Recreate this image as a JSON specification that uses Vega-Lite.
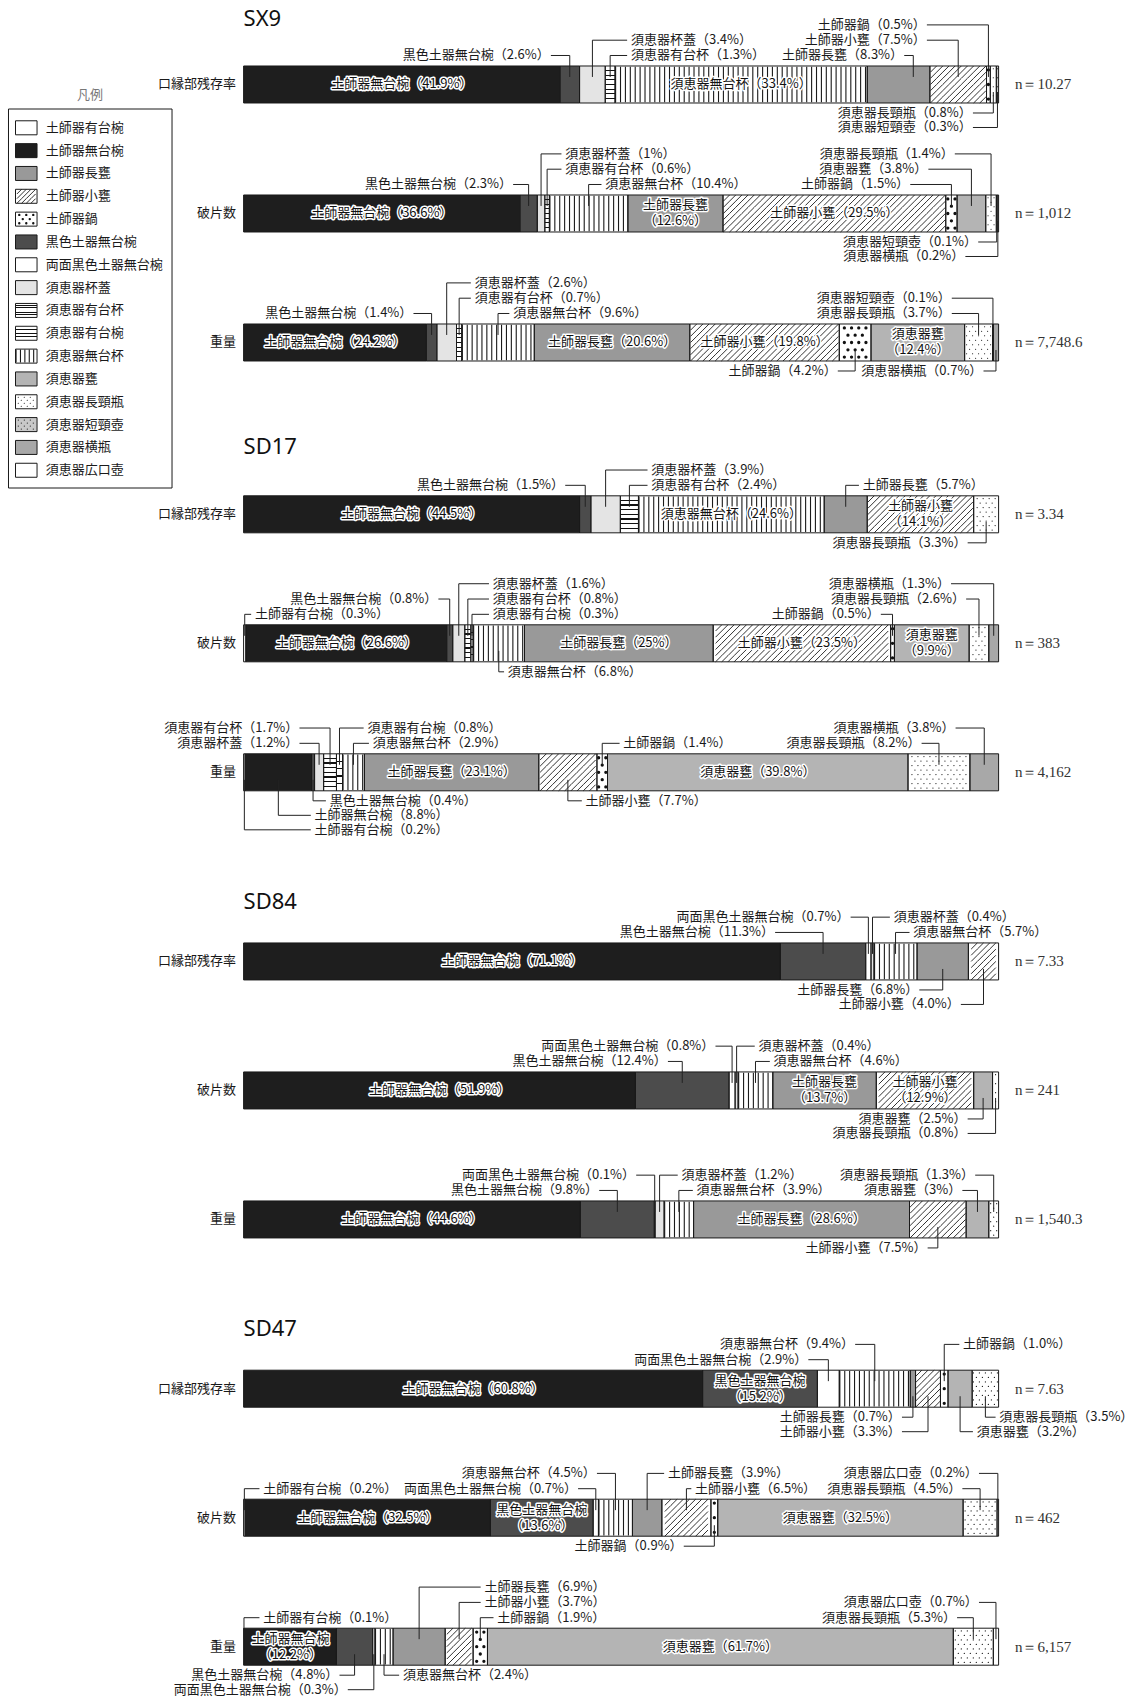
{
"$schema": "https://vega.github.io/schema/vega-lite/v6.json",
"width": 1139, "height": 1697,
"autosize": {"type": "none"},
"padding": 0,
"background": "white",
"config": {"view": {"stroke": null}, "font": "Noto Sans CJK JP"},
"datasets": {
"d": [
{"g":"SX9","b":"口縁部残存率","c":"土師器無台椀","v":41.9,"t":"i"},
{"g":"SX9","b":"口縁部残存率","c":"黒色土器無台椀","v":2.6,"lv":1,"lx":40.2},
{"g":"SX9","b":"口縁部残存率","c":"須恵器杯蓋","v":3.4,"lv":2,"lx":51.3},
{"g":"SX9","b":"口縁部残存率","c":"須恵器有台杯","v":1.3,"lv":1,"lx":51.3},
{"g":"SX9","b":"口縁部残存率","c":"須恵器無台杯","v":33.4,"t":"i"},
{"g":"SX9","b":"口縁部残存率","c":"土師器長甕","v":8.3,"lv":1,"lx":87.0,"ax":88.7},
{"g":"SX9","b":"口縁部残存率","c":"土師器小甕","v":7.5,"lv":2,"lx":90.0},
{"g":"SX9","b":"口縁部残存率","c":"土師器鍋","v":0.5,"lv":3,"lx":90.0},
{"g":"SX9","b":"口縁部残存率","c":"須恵器長頸瓶","v":0.8,"lv":-1,"lx":96.1},
{"g":"SX9","b":"口縁部残存率","c":"須恵器短頸壺","v":0.3,"lv":-2,"lx":96.1},
{"g":"SX9","b":"破片数","c":"土師器無台椀","v":36.6,"t":"i"},
{"g":"SX9","b":"破片数","c":"黒色土器無台椀","v":2.3,"lv":1,"lx":35.2},
{"g":"SX9","b":"破片数","c":"須恵器杯蓋","v":1,"lv":3,"lx":42.6},
{"g":"SX9","b":"破片数","c":"須恵器有台杯","v":0.6,"lv":2,"lx":42.6},
{"g":"SX9","b":"破片数","c":"須恵器無台杯","v":10.4,"lv":1,"lx":47.9},
{"g":"SX9","b":"破片数","c":"土師器長甕","v":12.6,"t":"i2"},
{"g":"SX9","b":"破片数","c":"土師器小甕","v":29.5,"t":"i"},
{"g":"SX9","b":"破片数","c":"土師器鍋","v":1.5,"lv":1,"lx":87.8},
{"g":"SX9","b":"破片数","c":"須恵器甕","v":3.8,"lv":2,"lx":90.2},
{"g":"SX9","b":"破片数","c":"須恵器長頸瓶","v":1.4,"lv":3,"lx":93.7},
{"g":"SX9","b":"破片数","c":"須恵器短頸壺","v":0.1,"lv":-1,"lx":96.8},
{"g":"SX9","b":"破片数","c":"須恵器横瓶","v":0.2,"lv":-2,"lx":95.1},
{"g":"SX9","b":"重量","c":"土師器無台椀","v":24.2,"t":"i"},
{"g":"SX9","b":"重量","c":"黒色土器無台椀","v":1.4,"lv":1,"lx":22.0},
{"g":"SX9","b":"重量","c":"須恵器杯蓋","v":2.6,"lv":3,"lx":30.6},
{"g":"SX9","b":"重量","c":"須恵器有台杯","v":0.7,"lv":2,"lx":30.6},
{"g":"SX9","b":"重量","c":"須恵器無台杯","v":9.6,"lv":1,"lx":35.7},
{"g":"SX9","b":"重量","c":"土師器長甕","v":20.6,"t":"i"},
{"g":"SX9","b":"重量","c":"土師器小甕","v":19.8,"t":"i"},
{"g":"SX9","b":"重量","c":"土師器鍋","v":4.2,"lv":-1,"lx":78.2},
{"g":"SX9","b":"重量","c":"須恵器甕","v":12.4,"t":"i2"},
{"g":"SX9","b":"重量","c":"須恵器長頸瓶","v":3.7,"lv":1,"lx":93.3},
{"g":"SX9","b":"重量","c":"須恵器短頸壺","v":0.1,"lv":2,"lx":93.3},
{"g":"SX9","b":"重量","c":"須恵器横瓶","v":0.7,"lv":-1,"lx":97.5},
{"g":"SD17","b":"口縁部残存率","c":"土師器無台椀","v":44.5,"t":"i"},
{"g":"SD17","b":"口縁部残存率","c":"黒色土器無台椀","v":1.5,"lv":1,"lx":42.1},
{"g":"SD17","b":"口縁部残存率","c":"須恵器杯蓋","v":3.9,"lv":2,"lx":54.0},
{"g":"SD17","b":"口縁部残存率","c":"須恵器有台杯","v":2.4,"lv":1,"lx":54.0},
{"g":"SD17","b":"口縁部残存率","c":"須恵器無台杯","v":24.6,"t":"i"},
{"g":"SD17","b":"口縁部残存率","c":"土師器長甕","v":5.7,"lv":1,"lx":82.0},
{"g":"SD17","b":"口縁部残存率","c":"土師器小甕","v":14.1,"t":"i2"},
{"g":"SD17","b":"口縁部残存率","c":"須恵器長頸瓶","v":3.3,"lv":-1,"lx":95.4},
{"g":"SD17","b":"破片数","c":"土師器有台椀","v":0.3,"lv":1,"lx":1.5},
{"g":"SD17","b":"破片数","c":"土師器無台椀","v":26.6,"t":"i"},
{"g":"SD17","b":"破片数","c":"黒色土器無台椀","v":0.8,"lv":2,"lx":25.3},
{"g":"SD17","b":"破片数","c":"須恵器杯蓋","v":1.6,"lv":3,"lx":33.0},
{"g":"SD17","b":"破片数","c":"須恵器有台杯","v":0.8,"lv":2,"lx":33.0},
{"g":"SD17","b":"破片数","c":"須恵器有台椀","v":0.3,"lv":1,"lx":33.0},
{"g":"SD17","b":"破片数","c":"須恵器無台杯","v":6.8,"lv":-1,"lx":35.0},
{"g":"SD17","b":"破片数","c":"土師器長甕","v":25,"t":"i"},
{"g":"SD17","b":"破片数","c":"土師器小甕","v":23.5,"t":"i"},
{"g":"SD17","b":"破片数","c":"土師器鍋","v":0.5,"lv":1,"lx":83.9},
{"g":"SD17","b":"破片数","c":"須恵器甕","v":9.9,"t":"i2"},
{"g":"SD17","b":"破片数","c":"須恵器長頸瓶","v":2.6,"lv":2,"lx":95.2},
{"g":"SD17","b":"破片数","c":"須恵器横瓶","v":1.3,"lv":3,"lx":93.2},
{"g":"SD17","b":"重量","c":"土師器有台椀","v":0.2,"lv":-3,"lx":9.4},
{"g":"SD17","b":"重量","c":"土師器無台椀","v":8.8,"lv":-2,"lx":9.4},
{"g":"SD17","b":"重量","c":"黒色土器無台椀","v":0.4,"lv":-1,"lx":11.4},
{"g":"SD17","b":"重量","c":"須恵器杯蓋","v":1.2,"lv":1,"lx":6.9},
{"g":"SD17","b":"重量","c":"須恵器有台杯","v":1.7,"lv":2,"lx":6.9},
{"g":"SD17","b":"重量","c":"須恵器有台椀","v":0.8,"lv":2,"lx":16.4},
{"g":"SD17","b":"重量","c":"須恵器無台杯","v":2.9,"lv":1,"lx":17.1},
{"g":"SD17","b":"重量","c":"土師器長甕","v":23.1,"t":"i"},
{"g":"SD17","b":"重量","c":"土師器小甕","v":7.7,"lv":-1,"lx":45.3},
{"g":"SD17","b":"重量","c":"土師器鍋","v":1.4,"lv":1,"lx":50.3},
{"g":"SD17","b":"重量","c":"須恵器甕","v":39.8,"t":"i"},
{"g":"SD17","b":"重量","c":"須恵器長頸瓶","v":8.2,"lv":1,"lx":89.3},
{"g":"SD17","b":"重量","c":"須恵器横瓶","v":3.8,"lv":2,"lx":93.8},
{"g":"SD84","b":"口縁部残存率","c":"土師器無台椀","v":71.1,"t":"i"},
{"g":"SD84","b":"口縁部残存率","c":"黒色土器無台椀","v":11.3,"lv":1,"lx":69.9},
{"g":"SD84","b":"口縁部残存率","c":"両面黒色土器無台椀","v":0.7,"lv":2,"lx":79.9},
{"g":"SD84","b":"口縁部残存率","c":"須恵器杯蓋","v":0.4,"lv":2,"lx":86.1},
{"g":"SD84","b":"口縁部残存率","c":"須恵器無台杯","v":5.7,"lv":1,"lx":88.7},
{"g":"SD84","b":"口縁部残存率","c":"土師器長甕","v":6.8,"lv":-1,"lx":89.0},
{"g":"SD84","b":"口縁部残存率","c":"土師器小甕","v":4.0,"vs":"4.0","lv":-2,"lx":94.5},
{"g":"SD84","b":"破片数","c":"土師器無台椀","v":51.9,"t":"i"},
{"g":"SD84","b":"破片数","c":"黒色土器無台椀","v":12.4,"lv":1,"lx":55.7},
{"g":"SD84","b":"破片数","c":"両面黒色土器無台椀","v":0.8,"lv":2,"lx":62.0},
{"g":"SD84","b":"破片数","c":"須恵器杯蓋","v":0.4,"lv":2,"lx":68.2},
{"g":"SD84","b":"破片数","c":"須恵器無台杯","v":4.6,"lv":1,"lx":70.2},
{"g":"SD84","b":"破片数","c":"土師器長甕","v":13.7,"t":"i2"},
{"g":"SD84","b":"破片数","c":"土師器小甕","v":12.9,"t":"i2"},
{"g":"SD84","b":"破片数","c":"須恵器甕","v":2.5,"lv":-1,"lx":95.4},
{"g":"SD84","b":"破片数","c":"須恵器長頸瓶","v":0.8,"lv":-2,"lx":95.4},
{"g":"SD84","b":"重量","c":"土師器無台椀","v":44.6,"t":"i"},
{"g":"SD84","b":"重量","c":"黒色土器無台椀","v":9.8,"lv":1,"lx":46.6},
{"g":"SD84","b":"重量","c":"両面黒色土器無台椀","v":0.1,"lv":2,"lx":51.5},
{"g":"SD84","b":"重量","c":"須恵器杯蓋","v":1.2,"lv":2,"lx":58.0},
{"g":"SD84","b":"重量","c":"須恵器無台杯","v":3.9,"lv":1,"lx":60.0},
{"g":"SD84","b":"重量","c":"土師器長甕","v":28.6,"t":"i"},
{"g":"SD84","b":"重量","c":"土師器小甕","v":7.5,"lv":-1,"lx":90.1},
{"g":"SD84","b":"重量","c":"須恵器甕","v":3,"lv":1,"lx":94.7},
{"g":"SD84","b":"重量","c":"須恵器長頸瓶","v":1.3,"lv":2,"lx":96.4},
{"g":"SD47","b":"口縁部残存率","c":"土師器無台椀","v":60.8,"t":"i"},
{"g":"SD47","b":"口縁部残存率","c":"黒色土器無台椀","v":15.2,"t":"i2"},
{"g":"SD47","b":"口縁部残存率","c":"両面黒色土器無台椀","v":2.9,"lv":1,"lx":74.3},
{"g":"SD47","b":"口縁部残存率","c":"須恵器無台杯","v":9.4,"lv":2,"lx":80.5},
{"g":"SD47","b":"口縁部残存率","c":"土師器長甕","v":0.7,"lv":-1,"lx":86.7},
{"g":"SD47","b":"口縁部残存率","c":"土師器小甕","v":3.3,"lv":-2,"lx":86.7},
{"g":"SD47","b":"口縁部残存率","c":"土師器鍋","v":1.0,"vs":"1.0","lv":2,"lx":95.3},
{"g":"SD47","b":"口縁部残存率","c":"須恵器甕","v":3.2,"lv":-2,"lx":97.1},
{"g":"SD47","b":"口縁部残存率","c":"須恵器長頸瓶","v":3.5,"lv":-1,"lx":100.1},
{"g":"SD47","b":"破片数","c":"土師器有台椀","v":0.2,"lv":1,"lx":2.6},
{"g":"SD47","b":"破片数","c":"土師器無台椀","v":32.5,"t":"i"},
{"g":"SD47","b":"破片数","c":"黒色土器無台椀","v":13.6,"t":"i2"},
{"g":"SD47","b":"破片数","c":"両面黒色土器無台椀","v":0.7,"lv":1,"lx":43.8},
{"g":"SD47","b":"破片数","c":"須恵器無台杯","v":4.5,"lv":2,"lx":46.3},
{"g":"SD47","b":"破片数","c":"土師器長甕","v":3.9,"lv":2,"lx":56.2},
{"g":"SD47","b":"破片数","c":"土師器小甕","v":6.5,"lv":1,"lx":59.8},
{"g":"SD47","b":"破片数","c":"土師器鍋","v":0.9,"lv":-1,"lx":57.8},
{"g":"SD47","b":"破片数","c":"須恵器甕","v":32.5,"t":"i"},
{"g":"SD47","b":"破片数","c":"須恵器長頸瓶","v":4.5,"lv":1,"lx":94.7},
{"g":"SD47","b":"破片数","c":"須恵器広口壺","v":0.2,"lv":2,"lx":96.9},
{"g":"SD47","b":"重量","c":"土師器有台椀","v":0.1,"lv":1,"lx":2.6},
{"g":"SD47","b":"重量","c":"土師器無台椀","v":12.2,"t":"i2"},
{"g":"SD47","b":"重量","c":"黒色土器無台椀","v":4.8,"lv":-1,"lx":12.2},
{"g":"SD47","b":"重量","c":"両面黒色土器無台椀","v":0.3,"lv":-2,"lx":13.3},
{"g":"SD47","b":"重量","c":"須恵器無台杯","v":2.4,"lv":-1,"lx":21.1},
{"g":"SD47","b":"重量","c":"土師器長甕","v":6.9,"lv":3,"lx":31.9},
{"g":"SD47","b":"重量","c":"土師器小甕","v":3.7,"lv":2,"lx":31.9},
{"g":"SD47","b":"重量","c":"土師器鍋","v":1.9,"lv":1,"lx":33.6},
{"g":"SD47","b":"重量","c":"須恵器甕","v":61.7,"t":"i"},
{"g":"SD47","b":"重量","c":"須恵器長頸瓶","v":5.3,"lv":1,"lx":94.0},
{"g":"SD47","b":"重量","c":"須恵器広口壺","v":0.7,"lv":2,"lx":96.9}
],
"nv": [
{"g":"SX9","b":"口縁部残存率","n":"10.27"},
{"g":"SX9","b":"破片数","n":"1,012"},
{"g":"SX9","b":"重量","n":"7,748.6"},
{"g":"SD17","b":"口縁部残存率","n":"3.34"},
{"g":"SD17","b":"破片数","n":"383"},
{"g":"SD17","b":"重量","n":"4,162"},
{"g":"SD84","b":"口縁部残存率","n":"7.33"},
{"g":"SD84","b":"破片数","n":"241"},
{"g":"SD84","b":"重量","n":"1,540.3"},
{"g":"SD47","b":"口縁部残存率","n":"7.63"},
{"g":"SD47","b":"破片数","n":"462"},
{"g":"SD47","b":"重量","n":"6,157"}
],
"legend": [
{"c":"土師器有台椀"},{"c":"土師器無台椀"},{"c":"土師器長甕"},{"c":"土師器小甕"},{"c":"土師器鍋"},{"c":"黒色土器無台椀"},{"c":"両面黒色土器無台椀"},{"c":"須恵器杯蓋"},{"c":"須恵器有台杯"},{"c":"須恵器有台椀"},{"c":"須恵器無台杯"},{"c":"須恵器甕"},{"c":"須恵器長頸瓶"},{"c":"須恵器短頸壺"},{"c":"須恵器横瓶"},{"c":"須恵器広口壺"}
],
"titles": [{"g":"SX9"},{"g":"SD17"},{"g":"SD84"},{"g":"SD47"}]
},
"layer": [
{
"data": {"name": "d"},
"transform": [
{"calculate":"indexof(['土師器有台椀','土師器無台椀','黒色土器無台椀','両面黒色土器無台椀','須恵器杯蓋','須恵器有台杯','須恵器有台椀','須恵器無台杯','土師器長甕','土師器小甕','土師器鍋','須恵器甕','須恵器長頸瓶','須恵器短頸壺','須恵器横瓶','須恵器広口壺'],datum.c)","as":"ord"},
{"stack":"v","groupby":["g","b"],"sort":[{"field":"ord","order":"ascending"}],"as":["x1","x2"]},
{"calculate":"[0,3.332,6.798,10.11][indexof(['SX9','SD17','SD84','SD47'],datum.g)]+indexof(['口縁部残存率','破片数','重量'],datum.b)","as":"yc"},
{"calculate":"datum.yc-0.1434","as":"y1"},
{"calculate":"datum.yc+0.1434","as":"y2"},
{"calculate":"(datum.x1+datum.x2)/2","as":"mid"},
{"calculate":"(datum.x2-datum.x1)*7.55","as":"wpx"},
{"calculate":"floor(datum.wpx/6.1667)","as":"hn"},
{"calculate":"-datum.hn*6.1667/2","as":"hx0"},
{"calculate":"pad('',datum.hn,'l6.1667,-6.1667m0,6.1667')","as":"hR"},
{"calculate":"'M'+datum.hx0+',18.5'+datum.hR+'M'+datum.hx0+',12.333'+datum.hR+'M'+datum.hx0+',6.1667'+datum.hR+'M'+datum.hx0+',0'+datum.hR+'M'+datum.hx0+',-6.1667'+datum.hR+'M'+datum.hx0+',-12.333'+datum.hR","as":"hp"},
{"calculate":"floor((datum.wpx-3)/7.2)+1","as":"nd"},
{"calculate":"-(datum.nd-1)*3.6","as":"dx0"},
{"calculate":"pad('',datum.nd,'l0,0m7.2,0')","as":"dE"},
{"calculate":"pad('',datum.nd-1,'l0,0m7.2,0')","as":"dO"},
{"calculate":"'M'+datum.dx0+',-14.6'+datum.dE+'M'+(datum.dx0+3.6)+',-7.3'+datum.dO+'M'+datum.dx0+',0'+datum.dE+'M'+(datum.dx0+3.6)+',7.3'+datum.dO+'M'+datum.dx0+',14.6'+datum.dE","as":"dp"},
{"calculate":"floor((datum.wpx-2)/6)+1","as":"ne"},
{"calculate":"-(datum.ne-1)*3","as":"sx"},
{"calculate":"pad('',datum.ne,'l0,0m6,0')","as":"sE"},
{"calculate":"pad('',datum.ne-1,'l0,0m6,0')","as":"sO"},
{"calculate":"'M'+datum.sx+',-15.75'+datum.sE+'M'+(datum.sx+3)+',-11.25'+datum.sO+'M'+datum.sx+',-6.75'+datum.sE+'M'+(datum.sx+3)+',-2.25'+datum.sO+'M'+datum.sx+',2.25'+datum.sE+'M'+(datum.sx+3)+',6.75'+datum.sO+'M'+datum.sx+',11.25'+datum.sE+'M'+(datum.sx+3)+',15.75'+datum.sO","as":"sp"},
{"calculate":"isValid(datum.vs)?datum.vs:''+datum.v","as":"vt"},
{"calculate":"datum.t==='i2'?datum.c+'\\n（'+datum.vt+'%）':datum.c+'（'+datum.vt+'%）'","as":"lbl"},
{"calculate":"isValid(datum.ax)?datum.ax:datum.mid","as":"axx"},
{"calculate":"datum.lv>0?datum.y1-(10.5+15.3*(datum.lv-1))/129:datum.y2+(10+14.5*(-datum.lv-1))/129","as":"ly"},
{"calculate":"datum.lv>0?datum.y1+0.085:datum.y2-0.085","as":"ey"},
{"calculate":"datum.lx<datum.axx","as":"lf"},
{"calculate":"datum.lf?datum.lx+0.35:datum.lx","as":"tx"},
{"calculate":"datum.lf?datum.lx+0.5:datum.lx-0.5","as":"lxe"}
],
"layer": [
{"mark":{"type":"rect"},
 "encoding":{"x":{"field":"x1","type":"quantitative","scale":{"domain":[-32.265,118.596],"nice":false,"zero":false},"axis":null},"x2":{"field":"x2"},
 "y":{"field":"y1","type":"quantitative","scale":{"domain":[-0.655,12.5],"nice":false,"zero":false,"reverse":true},"axis":null},"y2":{"field":"y2"},
 "fill":{"field":"c","type":"nominal","legend":null,"scale":{"domain":["土師器有台椀","土師器無台椀","土師器長甕","土師器小甕","土師器鍋","黒色土器無台椀","両面黒色土器無台椀","須恵器杯蓋","須恵器有台杯","須恵器有台椀","須恵器無台杯","須恵器甕","須恵器長頸瓶","須恵器短頸壺","須恵器横瓶","須恵器広口壺"],"range":["#ffffff","#1e1e1e","#999999","#ffffff","#ffffff","#4c4c4c","#ffffff","#e4e4e4","#ffffff","#ffffff","#ffffff","#b4b4b4","#ffffff","#c8c8c8","#a8a8a8","#ffffff"]}}}},
{"transform":[{"filter":"datum.c==='須恵器有台杯'"}],
 "mark":{"type":"rect","fill":{"gradient":"linear","x1":0,"y1":0,"x2":0,"y2":1,"stops":[{"offset":0,"color":"#ffffff"},{"offset":0.109,"color":"#ffffff"},{"offset":0.109,"color":"#111111"},{"offset":0.141,"color":"#111111"},{"offset":0.141,"color":"#ffffff"},{"offset":0.234,"color":"#ffffff"},{"offset":0.234,"color":"#111111"},{"offset":0.266,"color":"#111111"},{"offset":0.266,"color":"#ffffff"},{"offset":0.359,"color":"#ffffff"},{"offset":0.359,"color":"#111111"},{"offset":0.391,"color":"#111111"},{"offset":0.391,"color":"#ffffff"},{"offset":0.484,"color":"#ffffff"},{"offset":0.484,"color":"#111111"},{"offset":0.516,"color":"#111111"},{"offset":0.516,"color":"#ffffff"},{"offset":0.609,"color":"#ffffff"},{"offset":0.609,"color":"#111111"},{"offset":0.641,"color":"#111111"},{"offset":0.641,"color":"#ffffff"},{"offset":0.734,"color":"#ffffff"},{"offset":0.734,"color":"#111111"},{"offset":0.766,"color":"#111111"},{"offset":0.766,"color":"#ffffff"},{"offset":0.859,"color":"#ffffff"},{"offset":0.859,"color":"#111111"},{"offset":0.891,"color":"#111111"},{"offset":0.891,"color":"#ffffff"},{"offset":1,"color":"#ffffff"}]}},
 "encoding":{"x":{"field":"x1","type":"quantitative"},"x2":{"field":"x2"},"y":{"field":"y1","type":"quantitative"},"y2":{"field":"y2"}}},
{"transform":[{"filter":"datum.c==='須恵器有台椀'"}],
 "mark":{"type":"rect","fill":{"gradient":"linear","x1":0,"y1":0,"x2":0,"y2":1,"stops":[{"offset":0,"color":"#ffffff"},{"offset":0.182,"color":"#ffffff"},{"offset":0.182,"color":"#111111"},{"offset":0.218,"color":"#111111"},{"offset":0.218,"color":"#ffffff"},{"offset":0.382,"color":"#ffffff"},{"offset":0.382,"color":"#111111"},{"offset":0.418,"color":"#111111"},{"offset":0.418,"color":"#ffffff"},{"offset":0.582,"color":"#ffffff"},{"offset":0.582,"color":"#111111"},{"offset":0.618,"color":"#111111"},{"offset":0.618,"color":"#ffffff"},{"offset":0.782,"color":"#ffffff"},{"offset":0.782,"color":"#111111"},{"offset":0.818,"color":"#111111"},{"offset":0.818,"color":"#ffffff"},{"offset":1,"color":"#ffffff"}]}},
 "encoding":{"x":{"field":"x1","type":"quantitative"},"x2":{"field":"x2"},"y":{"field":"y1","type":"quantitative"},"y2":{"field":"y2"}}},
{"transform":[{"filter":"datum.c==='須恵器無台杯'"}],
 "mark":{"type":"rule","strokeWidth":35.5,"strokeDash":[1.1,3.8],"color":"#1a1a1a","strokeCap":"butt"},
 "encoding":{"x":{"field":"x1","type":"quantitative"},"x2":{"field":"x2"},"y":{"field":"yc","type":"quantitative"}}},
{"transform":[{"filter":"datum.c==='土師器小甕'"}],
 "mark":{"type":"point","filled":false,"size":4,"opacity":1,"strokeWidth":0.9,"color":"#1a1a1a","strokeCap":"butt"},
 "encoding":{"x":{"field":"mid","type":"quantitative"},"y":{"field":"yc","type":"quantitative"},"shape":{"field":"hp","type":"nominal","scale":null}}},
{"transform":[{"filter":"datum.c==='土師器鍋'"}],
 "mark":{"type":"point","filled":false,"size":4,"opacity":1,"strokeWidth":3.3,"color":"#111111","strokeCap":"round"},
 "encoding":{"x":{"field":"mid","type":"quantitative"},"y":{"field":"yc","type":"quantitative"},"shape":{"field":"dp","type":"nominal","scale":null}}},
{"transform":[{"filter":"datum.c==='須恵器長頸瓶'||datum.c==='須恵器短頸壺'"}],
 "mark":{"type":"point","filled":false,"size":4,"opacity":1,"strokeWidth":1.2,"color":"#111111","strokeCap":"round"},
 "encoding":{"x":{"field":"mid","type":"quantitative"},"y":{"field":"yc","type":"quantitative"},"shape":{"field":"sp","type":"nominal","scale":null}}},
{"mark":{"type":"rect","fillOpacity":0,"stroke":"#1a1a1a","strokeWidth":1},
 "encoding":{"x":{"field":"x1","type":"quantitative"},"x2":{"field":"x2"},"y":{"field":"y1","type":"quantitative"},"y2":{"field":"y2"}}},
{"transform":[{"filter":"datum.t==='i'"}],
 "mark":{"type":"text","fontSize":13,"align":"center","baseline":"middle","stroke":"#ffffff","strokeWidth":3,"strokeJoin":"round","fill":"#ffffff"},
 "encoding":{"x":{"field":"mid","type":"quantitative"},"y":{"field":"yc","type":"quantitative"},"text":{"field":"lbl"}}},
{"transform":[{"filter":"datum.t==='i'"}],
 "mark":{"type":"text","fontSize":13,"align":"center","baseline":"middle","fill":"#111111"},
 "encoding":{"x":{"field":"mid","type":"quantitative"},"y":{"field":"yc","type":"quantitative"},"text":{"field":"lbl"}}},
{"transform":[{"filter":"datum.t==='i2'"}],
 "mark":{"type":"text","fontSize":13,"lineHeight":16,"lineBreak":"\n","align":"center","baseline":"middle","dy":-8,"stroke":"#ffffff","strokeWidth":3,"strokeJoin":"round","fill":"#ffffff"},
 "encoding":{"x":{"field":"mid","type":"quantitative"},"y":{"field":"yc","type":"quantitative"},"text":{"field":"lbl"}}},
{"transform":[{"filter":"datum.t==='i2'"}],
 "mark":{"type":"text","fontSize":13,"lineHeight":16,"lineBreak":"\n","align":"center","baseline":"middle","dy":-8,"fill":"#111111"},
 "encoding":{"x":{"field":"mid","type":"quantitative"},"y":{"field":"yc","type":"quantitative"},"text":{"field":"lbl"}}},
{"transform":[{"filter":"isValid(datum.lv)"}],
 "mark":{"type":"rule","color":"#222222","strokeWidth":1},
 "encoding":{"x":{"field":"axx","type":"quantitative"},"y":{"field":"ey","type":"quantitative"},"y2":{"field":"ly"}}},
{"transform":[{"filter":"isValid(datum.lv)"}],
 "mark":{"type":"rule","color":"#222222","strokeWidth":1},
 "encoding":{"x":{"field":"axx","type":"quantitative"},"x2":{"field":"lxe"},"y":{"field":"ly","type":"quantitative"}}},
{"transform":[{"filter":"isValid(datum.lv)&&!datum.lf"}],
 "mark":{"type":"text","fontSize":13,"align":"left","baseline":"middle","fill":"#1a1a1a"},
 "encoding":{"x":{"field":"tx","type":"quantitative"},"y":{"field":"ly","type":"quantitative"},"text":{"field":"lbl"}}},
{"transform":[{"filter":"isValid(datum.lv)&&datum.lf"}],
 "mark":{"type":"text","fontSize":13,"align":"right","baseline":"middle","fill":"#1a1a1a"},
 "encoding":{"x":{"field":"tx","type":"quantitative"},"y":{"field":"ly","type":"quantitative"},"text":{"field":"lbl"}}}
]
},
{
"data": {"name": "legend"},
"transform": [
{"calculate":"0.3357+0.17698*indexof(['土師器有台椀','土師器無台椀','土師器長甕','土師器小甕','土師器鍋','黒色土器無台椀','両面黒色土器無台椀','須恵器杯蓋','須恵器有台杯','須恵器有台椀','須恵器無台杯','須恵器甕','須恵器長頸瓶','須恵器短頸壺','須恵器横瓶','須恵器広口壺'],datum.c)","as":"yc"},
{"calculate":"datum.yc-0.0543","as":"y1"},
{"calculate":"datum.yc+0.0543","as":"y2"}
],
"layer": [
{"mark":{"type":"rect"},
 "encoding":{"x":{"datum":-30.21,"type":"quantitative"},"x2":{"datum":-27.36},"y":{"field":"y1","type":"quantitative"},"y2":{"field":"y2"},"fill":{"field":"c","type":"nominal","legend":null}}},
{"transform":[{"filter":"datum.c==='須恵器有台杯'"}],
 "mark":{"type":"rect","fill":{"gradient":"linear","x1":0,"y1":0,"x2":0,"y2":1,"stops":[{"offset":0,"color":"#ffffff"},{"offset":0.109,"color":"#ffffff"},{"offset":0.109,"color":"#111111"},{"offset":0.161,"color":"#111111"},{"offset":0.161,"color":"#ffffff"},{"offset":0.274,"color":"#ffffff"},{"offset":0.274,"color":"#111111"},{"offset":0.326,"color":"#111111"},{"offset":0.326,"color":"#ffffff"},{"offset":0.444,"color":"#ffffff"},{"offset":0.444,"color":"#111111"},{"offset":0.496,"color":"#111111"},{"offset":0.496,"color":"#ffffff"},{"offset":0.614,"color":"#ffffff"},{"offset":0.614,"color":"#111111"},{"offset":0.666,"color":"#111111"},{"offset":0.666,"color":"#ffffff"},{"offset":0.784,"color":"#ffffff"},{"offset":0.784,"color":"#111111"},{"offset":0.836,"color":"#111111"},{"offset":0.836,"color":"#ffffff"},{"offset":1,"color":"#ffffff"}]}},
 "encoding":{"x":{"datum":-30.21,"type":"quantitative"},"x2":{"datum":-27.36},"y":{"field":"y1","type":"quantitative"},"y2":{"field":"y2"}}},
{"transform":[{"filter":"datum.c==='須恵器有台椀'"}],
 "mark":{"type":"rect","fill":{"gradient":"linear","x1":0,"y1":0,"x2":0,"y2":1,"stops":[{"offset":0,"color":"#ffffff"},{"offset":0.22,"color":"#ffffff"},{"offset":0.22,"color":"#111111"},{"offset":0.28,"color":"#111111"},{"offset":0.28,"color":"#ffffff"},{"offset":0.47,"color":"#ffffff"},{"offset":0.47,"color":"#111111"},{"offset":0.53,"color":"#111111"},{"offset":0.53,"color":"#ffffff"},{"offset":0.72,"color":"#ffffff"},{"offset":0.72,"color":"#111111"},{"offset":0.78,"color":"#111111"},{"offset":0.78,"color":"#ffffff"},{"offset":1,"color":"#ffffff"}]}},
 "encoding":{"x":{"datum":-30.21,"type":"quantitative"},"x2":{"datum":-27.36},"y":{"field":"y1","type":"quantitative"},"y2":{"field":"y2"}}},
{"transform":[{"filter":"datum.c==='須恵器無台杯'"}],
 "mark":{"type":"rule","strokeWidth":13,"strokeDash":[1.1,3.3],"color":"#1a1a1a","strokeCap":"butt"},
 "encoding":{"x":{"datum":-30.21,"type":"quantitative"},"x2":{"datum":-27.36},"y":{"field":"yc","type":"quantitative"}}},
{"transform":[{"filter":"datum.c==='土師器小甕'"}],
 "mark":{"type":"point","filled":false,"size":4,"opacity":1,"strokeWidth":0.9,"color":"#1a1a1a","strokeCap":"butt","shape":"M-9.333,7l4.667,-4.667m0,4.667l4.667,-4.667m0,4.667l4.667,-4.667m0,4.667l4.667,-4.667m0,4.667M-9.333,2.333l4.667,-4.667m0,4.667l4.667,-4.667m0,4.667l4.667,-4.667m0,4.667l4.667,-4.667m0,4.667M-9.333,-2.333l4.667,-4.667m0,4.667l4.667,-4.667m0,4.667l4.667,-4.667m0,4.667l4.667,-4.667m0,4.667"},
 "encoding":{"x":{"datum":-28.785,"type":"quantitative"},"y":{"field":"yc","type":"quantitative"}}},
{"transform":[{"filter":"datum.c==='土師器鍋'"}],
 "mark":{"type":"point","filled":false,"size":4,"opacity":1,"strokeWidth":2.4,"color":"#111111","strokeCap":"round","shape":"M-7,-4.2l0,0M0,-4.2l0,0M7,-4.2l0,0M-3.5,0l0,0M3.5,0l0,0M-7,4.2l0,0M0,4.2l0,0M7,4.2l0,0"},
 "encoding":{"x":{"datum":-28.785,"type":"quantitative"},"y":{"field":"yc","type":"quantitative"}}},
{"transform":[{"filter":"datum.c==='須恵器長頸瓶'||datum.c==='須恵器短頸壺'"}],
 "mark":{"type":"point","filled":false,"size":4,"opacity":1,"strokeWidth":1.1,"color":"#111111","strokeCap":"round","shape":"M-8,-4.5l0,0M-2,-4.5l0,0M4,-4.5l0,0M-5,-1.5l0,0M1,-1.5l0,0M7,-1.5l0,0M-8,1.5l0,0M-2,1.5l0,0M4,1.5l0,0M-5,4.5l0,0M1,4.5l0,0M7,4.5l0,0"},
 "encoding":{"x":{"datum":-28.785,"type":"quantitative"},"y":{"field":"yc","type":"quantitative"}}},
{"mark":{"type":"rect","fillOpacity":0,"stroke":"#1a1a1a","strokeWidth":1},
 "encoding":{"x":{"datum":-30.21,"type":"quantitative"},"x2":{"datum":-27.36},"y":{"field":"y1","type":"quantitative"},"y2":{"field":"y2"}}},
{"mark":{"type":"text","fontSize":13,"align":"left","baseline":"middle","fill":"#1a1a1a"},
 "encoding":{"x":{"datum":-26.21,"type":"quantitative"},"y":{"field":"yc","type":"quantitative"},"text":{"field":"c"}}}
]
},
{
"data": {"values": [{"k":"凡例"}]},
"layer": [
{"mark":{"type":"rect","fillOpacity":0,"stroke":"#1a1a1a","strokeWidth":1},
 "encoding":{"x":{"datum":-31.14,"type":"quantitative"},"x2":{"datum":-9.48},"y":{"datum":0.19,"type":"quantitative"},"y2":{"datum":3.128}}},
{"mark":{"type":"text","fontSize":13,"align":"center","baseline":"middle","fill":"#777777"},
 "encoding":{"x":{"datum":-20.34,"type":"quantitative"},"y":{"datum":0.081,"type":"quantitative"},"text":{"field":"k"}}}
]
},
{
"data": {"name": "titles"},
"transform": [
{"calculate":"indexof(['SX9','SD17','SD84','SD47'],datum.g)","as":"gi"},
{"calculate":"[0,3.332,6.798,10.11][datum.gi]+[-0.504,-0.522,-0.46,-0.46][datum.gi]","as":"yc"}
],
"mark":{"type":"text","font":"Noto Sans","fontSize":22,"align":"left","baseline":"middle","fill":"#111111"},
"encoding":{"x":{"datum":0,"type":"quantitative"},"y":{"field":"yc","type":"quantitative"},"text":{"field":"g"}}
},
{
"data": {"name": "nv"},
"transform": [
{"calculate":"[0,3.332,6.798,10.11][indexof(['SX9','SD17','SD84','SD47'],datum.g)]+indexof(['口縁部残存率','破片数','重量'],datum.b)","as":"yc"},
{"calculate":"'n＝'+datum.n","as":"nt"}
],
"layer": [
{"mark":{"type":"text","fontSize":13,"align":"right","baseline":"middle","dx":-7.6,"fill":"#1a1a1a"},
 "encoding":{"x":{"datum":0,"type":"quantitative"},"y":{"field":"yc","type":"quantitative"},"text":{"field":"b"}}},
{"mark":{"type":"text","font":"Liberation Serif","fontSize":15,"align":"left","baseline":"middle","dx":16.3,"fill":"#333333"},
 "encoding":{"x":{"datum":100,"type":"quantitative"},"y":{"field":"yc","type":"quantitative"},"text":{"field":"nt"}}}
]
}
]
}
